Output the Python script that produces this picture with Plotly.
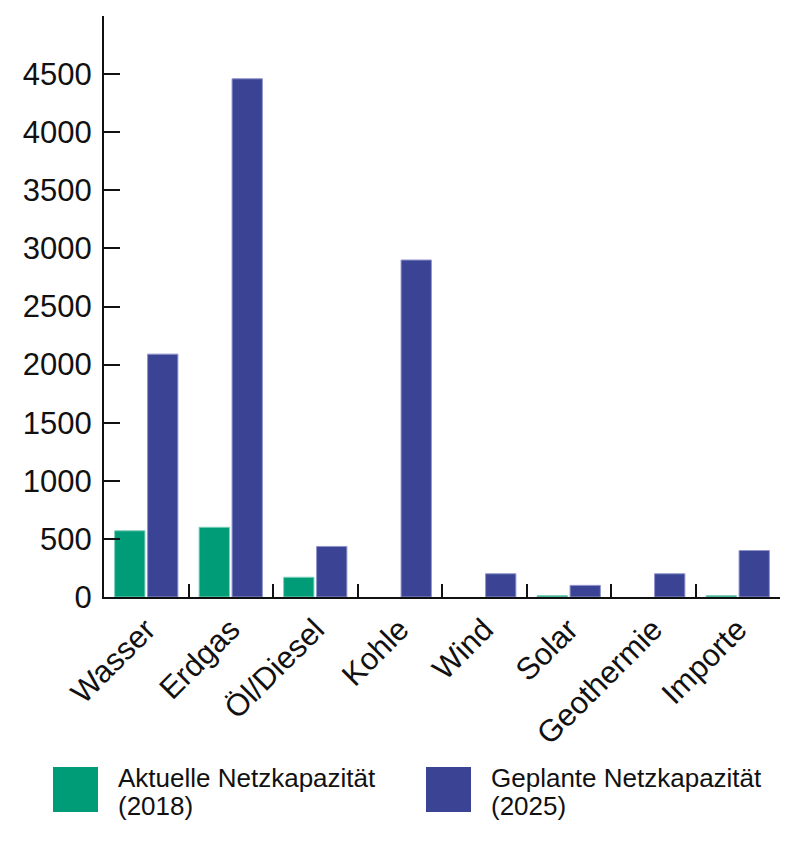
import plotly.graph_objects as go

categories = ["Wasser", "Erdgas", "Öl/Diesel", "Kohle", "Wind", "Solar", "Geothermie", "Importe"]
aktuell_2018 = [570, 600, 170, 0, 0, 12, 0, 12]
geplant_2025 = [2090, 4460, 435, 2900, 200, 100, 200, 400]
y_tickvals = [0, 500, 1000, 1500, 2000, 2500, 3000, 3500, 4000, 4500, 5000]
y_ticktext = ["0", "500", "1000", "1500", "2000", "2500", "3000", "3500", "4000", "4500", ""]
series_names = ["Aktuelle Netzkapazität", "Geplante Netzkapazität"]
series_years = ["(2018)", "(2025)"]

GREEN = "#009B77"
BLUE = "#3B4494"
FONT = "Liberation Sans, Arial, sans-serif"

W, H = 800, 860
L, R, T, B = 104, 20, 16, 263
PW, PH = W - L - R, H - T - B


def px(x):
    return (x - L) / PW


def py(y):
    return (H - B - y) / PH


def edge_widths(vals):
    return [1 if v > 0 else 0 for v in vals]


fig = go.Figure()
fig.add_trace(go.Bar(x=categories, y=aktuell_2018, name=series_names[0],
                     marker=dict(color=GREEN, line=dict(color="#7fcfbb", width=edge_widths(aktuell_2018))),
                     showlegend=False))
fig.add_trace(go.Bar(x=categories, y=geplant_2025, name=series_names[1],
                     marker=dict(color=BLUE, line=dict(color="#8f94cc", width=edge_widths(geplant_2025))),
                     showlegend=False))

fig.update_layout(
    width=W, height=H,
    margin=dict(l=L, r=R, t=T, b=B),
    paper_bgcolor="white", plot_bgcolor="white",
    barmode="group", bargap=0.22, bargroupgap=0.08,
    font=dict(family=FONT, color="#111111"),
    xaxis=dict(
        showline=True, linecolor="#111111", linewidth=2,
        ticks="inside", tickson="boundaries", ticklen=13, tickwidth=2, tickcolor="#111111",
        tickangle=-45, tickfont=dict(size=31, family=FONT, color="#111111"),
        showgrid=False, zeroline=False,
    ),
    yaxis=dict(
        range=[0, 5000], tickvals=y_tickvals, ticktext=y_ticktext,
        showline=True, linecolor="#111111", linewidth=2,
        ticks="inside", ticklen=16, tickwidth=2, tickcolor="#111111",
        tickfont=dict(size=31, family=FONT, color="#111111"),
        ticklabelstandoff=4,
        showgrid=False, zeroline=False,
    ),
)

# custom legend with large swatches
legend_items = [(53, GREEN, 116), (426, BLUE, 489)]
for i, (sx, col, tx) in enumerate(legend_items):
    fig.add_shape(type="rect", xref="paper", yref="paper",
                  x0=px(sx), x1=px(sx + 45), y0=py(812), y1=py(767),
                  fillcolor=col, line=dict(width=0))
    fig.add_annotation(xref="paper", yref="paper", x=px(tx), y=py(778),
                       text=series_names[i], showarrow=False, xanchor="left", yanchor="middle",
                       font=dict(size=26, family=FONT, color="#111111"))
    fig.add_annotation(xref="paper", yref="paper", x=px(tx), y=py(806),
                       text=series_years[i], showarrow=False, xanchor="left", yanchor="middle",
                       font=dict(size=26, family=FONT, color="#111111"))

fig.write_html("out.html", config={"displayModeBar": False},
               post_script="document.body.style.margin='0';document.body.style.overflow='hidden';")
